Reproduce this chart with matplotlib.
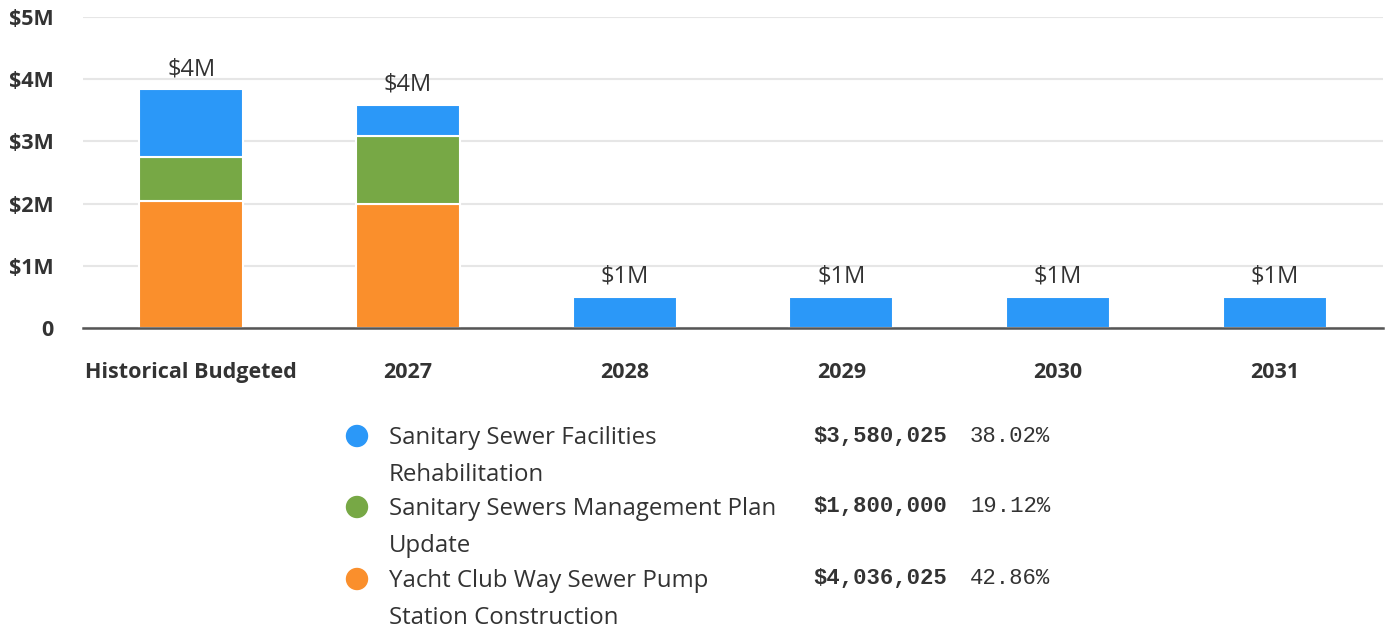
import numpy as np
import matplotlib
matplotlib.use("Agg")
import matplotlib.pyplot as plt

categories = ["Historical Budgeted", "2027", "2028", "2029", "2030", "2031"]
orange_vals = [2036025, 2000000, 0, 0, 0, 0]
green_vals = [720000, 1080000, 0, 0, 0, 0]
blue_vals = [1080025, 500000, 500000, 500000, 500000, 500000]

legend_names = ["Sanitary Sewer Facilities\nRehabilitation",
                "Sanitary Sewers Management Plan\nUpdate",
                "Yacht Club Way Sewer Pump\nStation Construction"]
legend_amounts = ["$3,580,025", "$1,800,000", "$4,036,025"]
legend_pcts = ["38.02%", "19.12%", "42.86%"]

yticks = [0, 1e6, 2e6, 3e6, 4e6, 5e6]
ytick_labels = ["0", "$1M", "$2M", "$3M", "$4M", "$5M"]

BLUE = "#2B98F8"
GREEN = "#77A845"
ORANGE = "#FA8F2C"
TEXT = "#333333"

W, H = 1388, 631
fig = plt.figure(figsize=(W / 100, H / 100), dpi=100)
ax = fig.add_axes([83 / W, 1 - 328 / H, 1300 / W, (328 - 17) / H])

x = np.arange(len(categories))
bw = 0.48
o = np.array(orange_vals, dtype=float)
g = np.array(green_vals, dtype=float)
b = np.array(blue_vals, dtype=float)
kw = dict(width=bw, edgecolor="white", linewidth=1.5, zorder=3)
ax.bar(x, o, color=ORANGE, **kw)
ax.bar(x, g, bottom=o, color=GREEN, **kw)
ax.bar(x, b, bottom=o + g, color=BLUE, **kw)

totals = o + g + b
for xi, t in zip(x, totals):
    lab = f"${int(np.floor(t / 1e6 + 0.5))}M"
    ax.annotate(lab, (xi, t), xytext=(0, 6), textcoords="offset points",
                ha="center", va="bottom", fontsize=17, color=TEXT,
                family="Open Sans")

ax.set_xlim(-0.5, len(categories) - 0.5)
ax.set_ylim(0, 5e6)
ax.set_yticks(yticks)
ax.set_yticklabels(ytick_labels, fontsize=15.5, fontweight="bold", color=TEXT,
                   family="Open Sans")
ax.set_xticks(x)
ax.set_xticklabels(categories, fontsize=15.5, fontweight="bold", color=TEXT,
                   family="Open Sans")
ax.tick_params(axis="both", length=0)
ax.tick_params(axis="y", pad=21)
ax.tick_params(axis="x", pad=24.5)
ax.grid(axis="y", color="#e6e6e6", linewidth=1.5, zorder=0)
for s in ["top", "right", "left"]:
    ax.spines[s].set_visible(False)
ax.spines["bottom"].set_color("#555555")
ax.spines["bottom"].set_linewidth(1.8)
ax.spines["bottom"].set_zorder(4)

colors = [BLUE, GREEN, ORANGE]
ys = [436, 507, 579]
for c, name, amt, pct, yy in zip(colors, legend_names, legend_amounts, legend_pcts, ys):
    fy = 1 - yy / H
    fig.patches.append(matplotlib.patches.Ellipse((357 / W, fy), 21 / W, 21 / H,
                                                   transform=fig.transFigure,
                                                   color=c, figure=fig))
    fig.text(389 / W, fy + 10 / H, name, ha="left", va="top", fontsize=17.3,
             color=TEXT, family="Open Sans", linespacing=1.72)
    fig.text(813 / W, fy, amt, ha="left", va="center", fontsize=16,
             fontweight="bold", color=TEXT, family="Liberation Mono")
    fig.text(970 / W, fy, pct, ha="left", va="center", fontsize=16,
             color=TEXT, family="Liberation Mono")

fig.savefig("out.png", dpi=100)
